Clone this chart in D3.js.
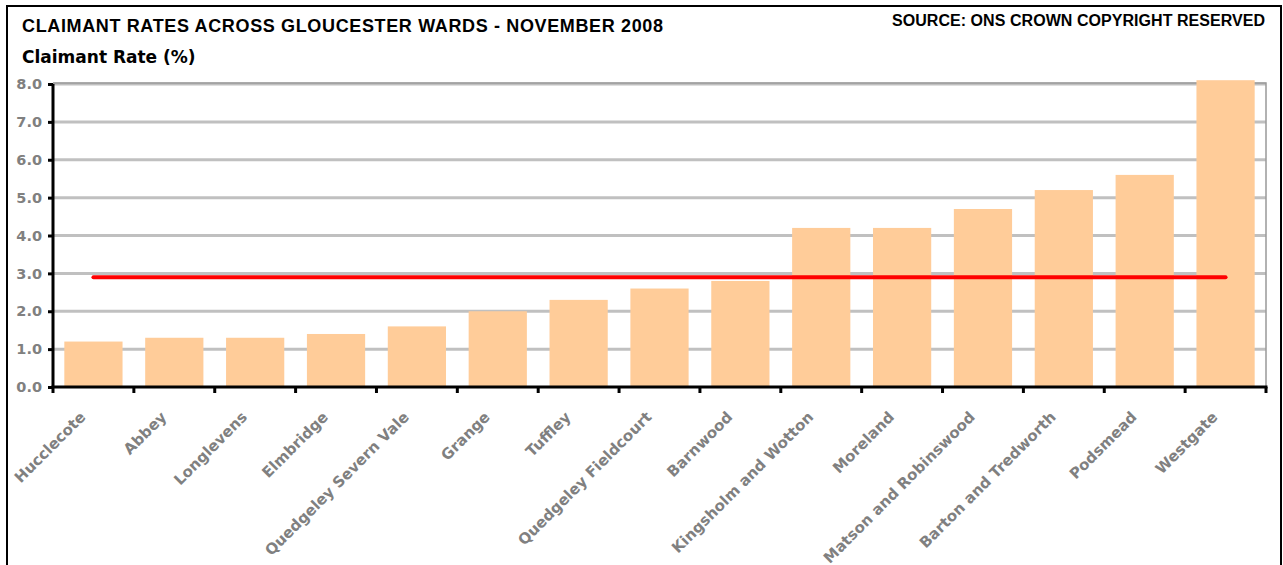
<!DOCTYPE html>
<html>
<head>
<meta charset="utf-8">
<script src="https://cdn.jsdelivr.net/npm/d3@7"></script>
<style>
  body { margin: 0; background: #fff; }
  svg { display: block; }
  .tick text { fill: #808080; font-family: "DejaVu Sans", Verdana, sans-serif; font-weight: bold; font-size: 14.5px; }
</style>
</head>
<body>
<svg width="1283" height="565"></svg>
<script>
// ward names, sorted by rate
const wards = ['Hucclecote', 'Abbey', 'Longlevens', 'Elmbridge', 'Quedgeley Severn Vale',
  'Grange', 'Tuffley', 'Quedgeley Fieldcourt', 'Barnwood', 'Kingsholm and Wotton',
  'Moreland', 'Matson and Robinswood', 'Barton and Tredworth', 'Podsmead', 'Westgate'];
const rates = [1.2, 1.3, 1.3, 1.4, 1.6, 2.0, 2.3, 2.6, 2.8, 4.2, 4.2, 4.7, 5.2, 5.6, 8.1];
const cityAverage = 2.9;
const yTicks = [0, 1, 2, 3, 4, 5, 6, 7, 8];

const data = wards.map((w, i) => ({ ward: w, rate: rates[i] }));

const svg = d3.select('svg');
const width = +svg.attr('width');
const height = +svg.attr('height');
const margin = { left: 53, right: 17, top: 84, bottom: 178 };
const innerWidth = width - margin.left - margin.right;
const innerHeight = height - margin.top - margin.bottom;

// chart frame (bottom edge falls outside the picture)
svg.append('path')
  .attr('d', `M7,${height}V6H1281V${height}`)
  .attr('fill', 'none')
  .attr('stroke', '#000')
  .attr('stroke-width', 2);

svg.append('text')
  .attr('x', 22).attr('y', 32)
  .attr('textLength', 641)
  .attr('lengthAdjust', 'spacing')
  .style('font-family', '"Liberation Sans", Arial, sans-serif')
  .style('font-weight', 'bold')
  .style('font-size', '18px')
  .text('CLAIMANT RATES ACROSS GLOUCESTER WARDS - NOVEMBER 2008');

svg.append('text')
  .attr('x', 892).attr('y', 26)
  .attr('textLength', 373)
  .attr('lengthAdjust', 'spacing')
  .style('font-family', '"Liberation Sans", Arial, sans-serif')
  .style('font-weight', 'bold')
  .style('font-size', '16px')
  .text('SOURCE: ONS CROWN COPYRIGHT RESERVED');

svg.append('text')
  .attr('x', 22).attr('y', 63)
  .style('font-family', '"DejaVu Sans", Verdana, sans-serif')
  .style('font-weight', 'bold')
  .style('font-size', '17px')
  .text('Claimant Rate (%)');

const g = svg.append('g')
  .attr('transform', `translate(${margin.left},${margin.top})`);

const xScale = d3.scaleBand()
  .domain(wards)
  .range([0, innerWidth])
  .paddingInner(0.28)
  .paddingOuter(0.14);

const yScale = d3.scaleLinear()
  .domain([0, 8])
  .range([innerHeight, 0]);

// gridlines
g.append('g')
  .selectAll('line')
  .data(yTicks.slice(1))
  .enter().append('line')
  .attr('x1', 0).attr('x2', innerWidth)
  .attr('y1', d => yScale(d)).attr('y2', d => yScale(d))
  .attr('stroke', '#c0c0c0')
  .attr('stroke-width', 3);

// plot area border (top + right)
g.append('path')
  .attr('d', `M0,${yScale(8) - 1}H${innerWidth}V${innerHeight}`)
  .attr('fill', 'none')
  .attr('stroke', '#999')
  .attr('stroke-width', 1.5);

g.selectAll('rect.bar')
  .data(data)
  .enter().append('rect')
  .attr('class', 'bar')
  .attr('x', d => xScale(d.ward))
  .attr('y', d => yScale(d.rate))
  .attr('width', xScale.bandwidth())
  .attr('height', d => innerHeight - yScale(d.rate))
  .attr('fill', '#ffcc99');

// average line
const cx = d => xScale(d) + xScale.bandwidth() / 2;
g.append('line')
  .attr('x1', cx(wards[0]))
  .attr('x2', cx(wards[wards.length - 1]))
  .attr('y1', yScale(cityAverage))
  .attr('y2', yScale(cityAverage))
  .attr('stroke', '#ff0000')
  .attr('stroke-width', 4)
  .attr('stroke-linecap', 'round');

const yAxis = d3.axisLeft(yScale)
  .tickValues(yTicks)
  .tickFormat(d3.format('.1f'))
  .tickSize(5)
  .tickPadding(6);

const yAxisG = g.append('g').call(yAxis);
yAxisG.select('.domain').attr('stroke-width', 3).attr('d', `M0,0V${innerHeight + 1}`);
yAxisG.selectAll('.tick line').attr('stroke-width', 3);

// x axis ticks sit between the categories
const step = xScale.step();
const xAxisG = g.append('g')
  .attr('transform', `translate(0,${innerHeight})`);
xAxisG.append('line')
  .attr('x1', -1.5).attr('x2', innerWidth + 1.5)
  .attr('stroke', '#000')
  .attr('stroke-width', 3);
xAxisG.selectAll('line.tk')
  .data(d3.range(wards.length + 1))
  .enter().append('line')
  .attr('class', 'tk')
  .attr('x1', i => i * step).attr('x2', i => i * step)
  .attr('y1', 0).attr('y2', 6)
  .attr('stroke', '#000')
  .attr('stroke-width', 3);

xAxisG.selectAll('text')
  .data(wards)
  .enter().append('text')
  .attr('transform', d => `translate(${cx(d) - 7},${31}) rotate(-45)`)
  .attr('text-anchor', 'end')
  .style('fill', '#808080')
  .style('font-family', '"DejaVu Sans", Verdana, sans-serif')
  .style('font-weight', 'bold')
  .style('font-size', '15px')
  .text(d => d);
</script>
</body>
</html>
